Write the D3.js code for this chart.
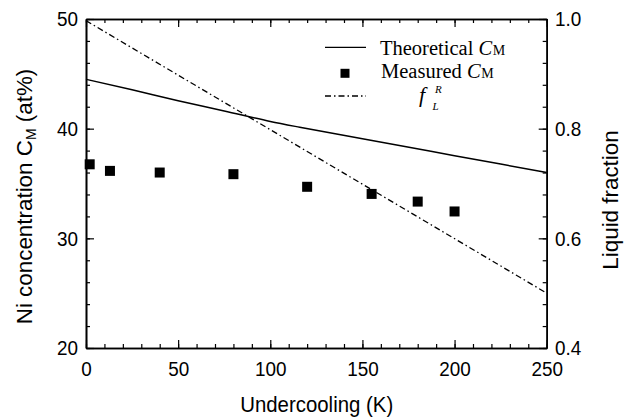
<!DOCTYPE html>
<html><head><meta charset="utf-8">
<script src="https://cdn.jsdelivr.net/npm/d3@7"></script>
<style>
body{margin:0;background:#fff;}
svg{display:block;}
text{fill:#000;}
</style></head>
<body>
<svg id="c" width="636" height="420"></svg>
<script>
// ---- data ----
const theoX = [0, 25, 50, 75, 100, 116, 150, 200, 250];
const theoY = [44.5, 43.55, 42.55, 41.62, 40.66, 40.13, 39.08, 37.54, 36.0];
const measX = [2, 13, 40, 80, 120, 155, 180, 200];
const measY = [36.75, 36.15, 36.0, 35.85, 34.7, 34.05, 33.35, 32.45];
const fracX = [0, 250];
const fracY = [0.997, 0.5];
const xTicks = [0, 50, 100, 150, 200, 250];
const yLeftTicks = [20, 30, 40, 50];
const yRightTicks = [0.4, 0.6, 0.8, 1.0];
const legendLabels = ["Theoretical ", "Measured "];

const svg = d3.select("#c");
const L = 86, R = 546.7, T = 19, B = 348;
const x = d3.scaleLinear([0, 250], [L, R]);
const yL = d3.scaleLinear([20, 50], [B, T]);
const yR = d3.scaleLinear([0.4, 1.0], [B, T]);

const sans = "'Liberation Sans', Arial, sans-serif";
const serif = "'Liberation Serif', 'Times New Roman', serif";

function styleAxis(g){
  g.select(".domain").attr("stroke","#000").attr("stroke-width",1.6);
  g.selectAll(".tick line").attr("stroke","#000").attr("stroke-width",1.2);
  g.selectAll("text").attr("font-family", sans).attr("font-size", 21)
    .attr("fill","#000").attr("transform","scale(0.9,1)");
}
const xMinor = d3.range(0, 251, 10);
const yLMinor = d3.range(20, 50.1, 2);
const yRMinor = d3.range(0.4, 1.001, 0.04);

// minor ticks
svg.append("g").attr("transform",`translate(0,${B})`)
  .call(d3.axisBottom(x).tickValues(xMinor).tickSizeInner(-4).tickSizeOuter(0).tickFormat(""))
  .call(styleAxis);
svg.append("g").attr("transform",`translate(0,${T})`)
  .call(d3.axisTop(x).tickValues(xMinor).tickSizeInner(-4).tickSizeOuter(0).tickFormat(""))
  .call(styleAxis);
svg.append("g").attr("transform",`translate(${L},0)`)
  .call(d3.axisLeft(yL).tickValues(yLMinor).tickSizeInner(-4).tickSizeOuter(0).tickFormat(""))
  .call(styleAxis);
svg.append("g").attr("transform",`translate(${R},0)`)
  .call(d3.axisRight(yR).tickValues(yRMinor).tickSizeInner(-4).tickSizeOuter(0).tickFormat(""))
  .call(styleAxis);

// major ticks
svg.append("g").attr("transform",`translate(0,${B})`)
  .call(d3.axisBottom(x).tickValues(xTicks).tickSizeInner(-8).tickSizeOuter(0).tickPadding(12.8).tickFormat(d3.format("d")))
  .call(styleAxis);
svg.append("g").attr("transform",`translate(0,${T})`)
  .call(d3.axisTop(x).tickValues(xTicks).tickSizeInner(-8).tickSizeOuter(0).tickFormat(""))
  .call(styleAxis);
svg.append("g").attr("transform",`translate(${L},0)`)
  .call(d3.axisLeft(yL).tickValues(yLeftTicks).tickSizeInner(-8).tickSizeOuter(0).tickPadding(8.9).tickFormat(d3.format("d")))
  .call(styleAxis);
svg.append("g").attr("transform",`translate(${R},0)`)
  .call(d3.axisRight(yR).tickValues(yRightTicks).tickSizeInner(-8).tickSizeOuter(0).tickPadding(9.2).tickFormat(d3.format(".1f")))
  .call(styleAxis);

// theoretical line
const theo = theoX.map((d,i)=>[d, theoY[i]]);
svg.append("path").datum(theo)
  .attr("fill","none").attr("stroke","#000").attr("stroke-width",1.5)
  .attr("d", d3.line().x(d=>x(d[0])).y(d=>yL(d[1])).curve(d3.curveMonotoneX));

// liquid fraction dash-dot
const frac = fracX.map((d,i)=>[d, fracY[i]]);
svg.append("path").datum(frac)
  .attr("fill","none").attr("stroke","#000").attr("stroke-width",1.3)
  .attr("stroke-dasharray","6,3,1.5,3")
  .attr("d", d3.line().x(d=>x(d[0])).y(d=>yR(d[1])));

// measured squares
const sq = 10;
svg.append("g").selectAll("rect").data(measX.map((d,i)=>[d, measY[i]])).join("rect")
  .attr("x", d=>x(d[0])-sq/2).attr("y", d=>yL(d[1])-sq/2)
  .attr("width", sq).attr("height", sq).attr("fill","#000");

// legend
const lg = svg.append("g");
lg.append("line").attr("x1",325).attr("x2",366).attr("y1",47.3).attr("y2",47.3)
  .attr("stroke","#000").attr("stroke-width",1.3);
function legendText(label, x0, y0){
  const t = lg.append("text").attr("x",x0).attr("y",y0).attr("font-family",serif).attr("font-size",20.5);
  t.append("tspan").text(label);
  t.append("tspan").attr("font-style","italic").text("C");
  t.append("tspan").attr("font-size",14).attr("dx",0.5).text("M");
}
legendText(legendLabels[0], 380, 55.2);
lg.append("rect").attr("x",345-4.5).attr("y",73.3-4.5).attr("width",9).attr("height",9).attr("fill","#000");
legendText(legendLabels[1], 381, 78.2);
lg.append("line").attr("x1",325).attr("x2",366).attr("y1",96).attr("y2",96)
  .attr("stroke","#000").attr("stroke-width",1.3).attr("stroke-dasharray","6,3,1.5,3");
lg.append("text").attr("x",419).attr("y",102).attr("font-family",serif).attr("font-size",22)
  .attr("font-style","italic").text("f");
lg.append("text").attr("x",435).attr("y",93).attr("font-family",serif).attr("font-size",11)
  .attr("font-style","italic").text("R");
lg.append("text").attr("x",432.5).attr("y",110).attr("font-family",serif).attr("font-size",11)
  .attr("font-style","italic").text("L");

// axis titles
svg.append("g").attr("transform","translate(316.7,411.7) scale(0.887,1)")
  .append("text").attr("text-anchor","middle")
  .attr("font-family",sans).attr("font-size",23).text("Undercooling (K)");
const yt = svg.append("text").attr("transform","translate(32,196.5) rotate(-90)")
  .attr("text-anchor","middle").attr("font-family",sans).attr("font-size",22.4);
yt.append("tspan").text("Ni concentration C");
yt.append("tspan").attr("font-size",14).attr("dy",4).text("M");
yt.append("tspan").attr("dy",-4).text(" (at%)");
svg.append("text").attr("transform","translate(618,200) rotate(-90)")
  .attr("text-anchor","middle").attr("font-family",sans).attr("font-size",22.4).text("Liquid fraction");
</script>
</body></html>
